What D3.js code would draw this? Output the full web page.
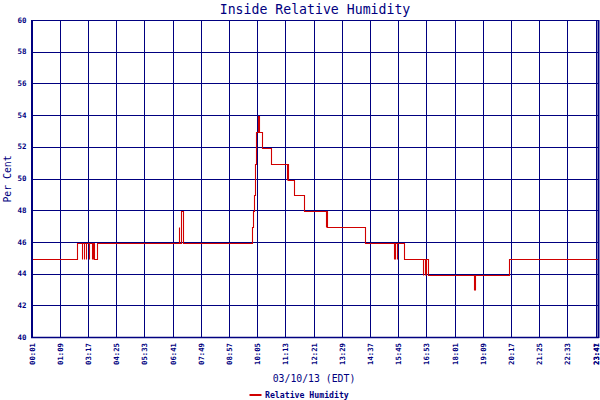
<!DOCTYPE html>
<html><head><meta charset="utf-8">
<script src="https://cdn.jsdelivr.net/npm/d3@7"></script>
<style>body{margin:0;background:#fff}svg{display:block}</style>
</head><body><div id="chart"></div>
<script>
// Tick labels (local time, DST day) and their elapsed minutes from 00:01
const tickLabels = ["00:01","01:09","03:17","04:25","05:33","06:41","07:49","08:57","10:05","11:13","12:21","13:29","14:37","15:45","16:53","18:01","19:09","20:17","21:25","22:33","23:41","23:47"];
const tickMinutes = [0,68,136,204,272,340,408,476,544,612,680,748,816,884,952,1020,1088,1156,1224,1292,1360,1366];
const yTicks = [40,42,44,46,48,50,52,54,56,58,60];
// Relative humidity samples: elapsed minutes and value (%); repeated minutes are brief spikes
const sampleMinutes = [0,110,122,122,126,126,132,132,138,138,145,145,149,149,151,157,355,355,360,365,531,534,536,538,541,545,548,557,577,616,616,619,632,658,710,710,713,804,873,873,877,877,881,881,898,944,944,948,948,952,952,955,1067,1067,1070,1070,1152,1366];
const humidity =      [45,46,45,46,45,46,45,46,45,46,45,46,45,46,45,46,47,46,48,46,47,48,49,51,53,54,53,52,51,50,51,50,49,48,47,48,47,46,45,46,45,46,45,46,45,44,45,44,45,44,45,44,43,44,43,44,45,45];

const W=600,H=400, L=31.5, R=598, T=20, B=337;
const navy="#000080", red="#d00000";
const svg=d3.select("#chart").append("svg").attr("width",W).attr("height",H);
const x=d3.scaleLinear().domain([0,1366]).range([L,R]);
const y=d3.scaleLinear().domain([40,60]).range([B,T]);
const mono="'DejaVu Sans Mono', monospace";

// grid
svg.append("g").selectAll("line").data(yTicks).join("line")
  .attr("x1",L).attr("x2",R).attr("y1",d=>Math.round(y(d))+0.5).attr("y2",d=>Math.round(y(d))+0.5)
  .attr("stroke",navy).attr("stroke-width",1);
svg.append("g").selectAll("line").data(tickMinutes).join("line")
  .attr("x1",d=>Math.round(x(d))+0.5).attr("x2",d=>Math.round(x(d))+0.5).attr("y1",T).attr("y2",B)
  .attr("stroke",navy).attr("stroke-width",1);

// data line
const pts=sampleMinutes.map((m,i)=>[m,humidity[i]]);
svg.append("path").datum(pts)
  .attr("d",d3.line().x(d=>Math.round(x(d[0]))+0.5).y(d=>Math.round(y(d[1]))+1.5).curve(d3.curveStepAfter))
  .attr("fill","none").attr("stroke",red).attr("stroke-width",1.1);

// axes borders
svg.append("line").attr("x1",32).attr("x2",32).attr("y1",T).attr("y2",B+1).attr("stroke",navy).attr("stroke-width",2);
svg.append("line").attr("x1",598.5).attr("x2",598.5).attr("y1",T).attr("y2",B+1).attr("stroke",navy).attr("stroke-width",2);
svg.append("line").attr("x1",31).attr("x2",R+1).attr("y1",B+0.5).attr("y2",B+0.5).attr("stroke",navy).attr("stroke-width",1.5);

// y tick labels
svg.append("g").selectAll("text").data(yTicks).join("text")
  .attr("x",26.5).attr("y",d=>y(d)).attr("dy","0.35em").attr("text-anchor","end")
  .attr("font-family",mono).attr("font-size",7.5).attr("font-weight","bold").attr("fill",navy).text(d=>d);

// x tick labels
svg.append("g").selectAll("text").data(tickMinutes).join("text")
  .attr("transform",(d)=>`translate(${Math.min(x(d)+0.5,596.5)},343) rotate(-90)`)
  .attr("dy","0.35em").attr("text-anchor","end")
  .attr("font-family",mono).attr("font-size",7.3).attr("font-weight","bold").attr("fill",navy)
  .text((d,i)=>tickLabels[i]);

// titles
svg.append("text").attr("x",315).attr("y",13.5).attr("text-anchor","middle")
  .attr("font-family",mono).attr("font-size",13.2).attr("fill",navy).text("Inside Relative Humidity");
svg.append("text").attr("x",314).attr("y",382).attr("text-anchor","middle")
  .attr("font-family",mono).attr("font-size",9.8).attr("fill",navy).text("03/10/13 (EDT)");
svg.append("text").attr("transform","translate(10.5,179) rotate(-90)").attr("text-anchor","middle")
  .attr("font-family",mono).attr("font-size",9.8).attr("fill",navy).text("Per Cent");

// legend
svg.append("line").attr("x1",249.5).attr("x2",261.5).attr("y1",395).attr("y2",395).attr("stroke",red).attr("stroke-width",2);
svg.append("text").attr("x",265).attr("y",398).attr("font-family",mono).attr("font-size",8.2).attr("font-weight","bold")
  .attr("fill",navy).text("Relative Humidity");
</script></body></html>
